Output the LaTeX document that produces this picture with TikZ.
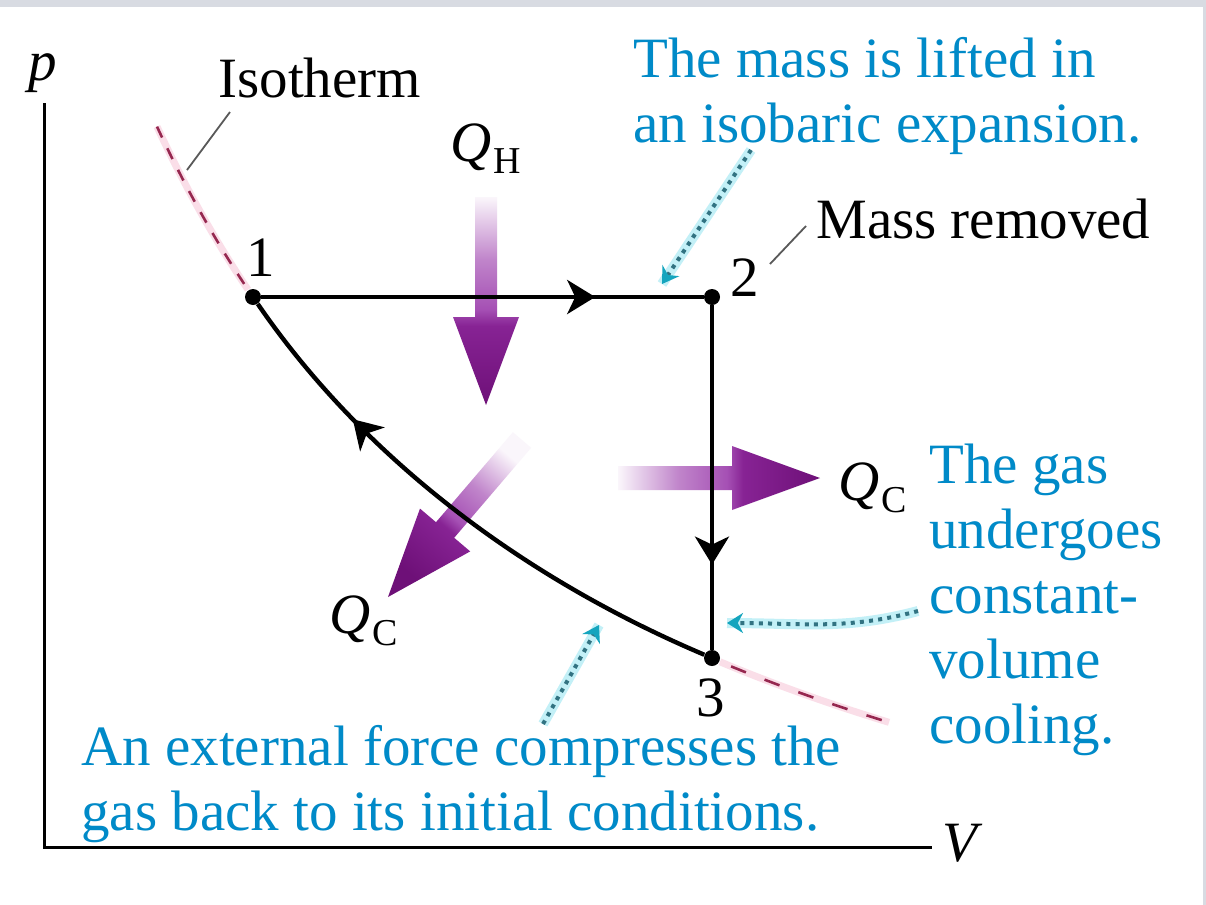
\documentclass[tikz,border=0pt]{standalone}
\usepackage{fontspec}
\setmainfont{Liberation Serif}
\usetikzlibrary{arrows.meta,decorations.markings}

\definecolor{qblue}{RGB}{0,138,200}
\definecolor{qpur}{RGB}{165,80,180}
\definecolor{qpurdark}{RGB}{110,16,120}
\definecolor{qpurhead}{RGB}{135,35,148}
\colorlet{qpurmid}{qpur!70!white}
\colorlet{qpurlight}{qpur!5!white}
\definecolor{isored}{RGB}{150,40,80}
\definecolor{isopink}{RGB}{250,222,232}
\definecolor{dotteal}{RGB}{50,115,130}
\definecolor{dotglow}{RGB}{195,240,247}
\definecolor{tipteal}{RGB}{20,165,190}
\definecolor{bandgray}{RGB}{216,219,226}

\pgfdeclareverticalshading{qshade}{100bp}{color(0bp)=(qpurdark); color(25bp)=(qpurdark); color(44bp)=(qpurhead); color(48bp)=(qpur); color(60bp)=(qpurmid); color(75bp)=(qpurlight); color(100bp)=(qpurlight)}

\newcommand{\qlab}[1]{\textit{Q}\kern1pt\raisebox{-6pt}{\fontsize{19}{19}\selectfont #1}}

\begin{document}
\begin{tikzpicture}[x=0.5pt,y=-0.5pt,
  lbl/.style={inner sep=0pt, font=\fontsize{28.5}{32.5}\selectfont},
  bluetxt/.style={lbl, text=qblue, align=left},
  proc/.style={line width=2.2pt, black},
  dotnode/.style={circle, fill=black, inner sep=0pt, minimum size=8pt},
  axisline/.style={line width=1.5pt, black},
  heat/.style={shading=qshade, draw=none},
  isoline/.style={preaction={draw=isopink, line width=3.5pt, solid}, draw=isored, line width=1.3pt},
  leader/.style={line width=0.9pt, black!65},
  dotarrow/.style={preaction={draw=dotglow, line width=5pt, solid, -}, draw=dotteal, line width=2pt, dash pattern=on 2pt off 2.6pt, -{Stealth[length=8pt,width=10pt,color=tipteal]}},
  midarrow/.style={postaction={decorate, decoration={markings, mark=at position #1 with {\arrow{Stealth[length=14pt,width=17pt,inset=4pt]}}}}}
]
\useasboundingbox (0,0) rectangle (1206,905);
\fill[white] (0,0) rectangle (1206,905);
\fill[bandgray] (0,0) rectangle (1206,7);
\fill[bandgray] (1203,0) rectangle (1206,905);

% axes
\coordinate (ptop) at (44,103);
\coordinate (origin) at (44,847);
\coordinate (vend) at (932,847);
\draw[axisline] (ptop) -- (origin) -- (vend);
\node[lbl, anchor=base] (plabel) at (43,80) {\textit{p}};
\node[lbl, anchor=base] (vlabel) at (963,861) {\textit{V}};

% heat arrows
\shade[heat] (475,197) -- (497,197) -- (497,317) -- (519,317) -- (486,405) -- (453,317) -- (475,317) -- cycle;
\shade[heat, shading angle=90] (618,466) -- (732,466) -- (732,446) -- (820,478) -- (732,510) -- (732,490) -- (618,490) -- cycle;
\shade[heat, shading angle=-40.5] (531.1,447.8) -- (454.2,537.8) -- (470.2,551.4) -- (388,597) -- (420.0,508.6) -- (436.0,522.2) -- (512.9,432.2) -- cycle;

% isotherm continuation
\draw[isoline, dash pattern=on 6pt off 6pt] plot[domain=157:248, samples=25] (\x, {1082.7 - 4233.5/((\x+285.8)/100)});
\draw[isoline, dash pattern=on 8pt off 10pt, dash phase=-6pt] plot[domain=720:889, samples=25] (\x, {1082.7 - 4233.5/((\x+285.8)/100)});

% states
\node[dotnode] (p1) at (253,297) {};
\node[dotnode] (p2) at (712,297) {};
\node[dotnode] (p3) at (712,658) {};
\coordinate (c1) at (514.8,574.4);
\coordinate (c2) at (359.1,451.6);
\draw[proc, midarrow=0.755] (p1) -- (p2);
\draw[proc, midarrow=0.753] (p2) -- (p3);
\draw[proc, midarrow=0.74] (p3) .. controls (c1) and (c2) .. (p1);

\node[lbl, anchor=base] (n1) at (261,276) {1};
\node[lbl, anchor=base] (n2) at (745,296) {2};
\node[lbl, anchor=base] (n3) at (711,716) {3};

% labels
\node[lbl, anchor=base west] (iso) at (218,97) {Isotherm};
\node[lbl, anchor=base west] (mass) at (816,238) {Mass removed};
\node[lbl, anchor=base west] (qh) at (450,161) {\qlab{H}};
\node[lbl, anchor=base west] (qc1) at (838,500) {\qlab{C}};
\node[lbl, anchor=base west] (qc2) at (329,633) {\qlab{C}};

\coordinate (isoA) at (230,112);
\coordinate (isoB) at (187,170);
\draw[leader] (isoA) -- (isoB);
\coordinate (massA) at (806,226);
\coordinate (massB) at (770,264);
\draw[leader] (massA) -- (massB);

\node[bluetxt, anchor=base west] (t1) at (633,142) {The mass is lifted in\\an isobaric expansion.};
\node[bluetxt, anchor=base west] (t2) at (929,743) {The gas\\undergoes\\constant-\\volume\\cooling.};
\node[bluetxt, anchor=base west] (t3) at (81,830) {An external force compresses the\\gas back to its initial conditions.};

% pointer arrows
\coordinate (a1s) at (751,150);
\coordinate (a1e) at (662,284);
\coordinate (a2s) at (918,611);
\coordinate (a2e) at (727,623);
\coordinate (a3s) at (543,724);
\coordinate (a3e) at (599,625);
\draw[dotarrow] (a1s) -- (a1e);
\draw[dotarrow] (a2s) to[out=195, in=0] (a2e);
\draw[dotarrow] (a3s) -- (a3e);
\end{tikzpicture}
\end{document}
